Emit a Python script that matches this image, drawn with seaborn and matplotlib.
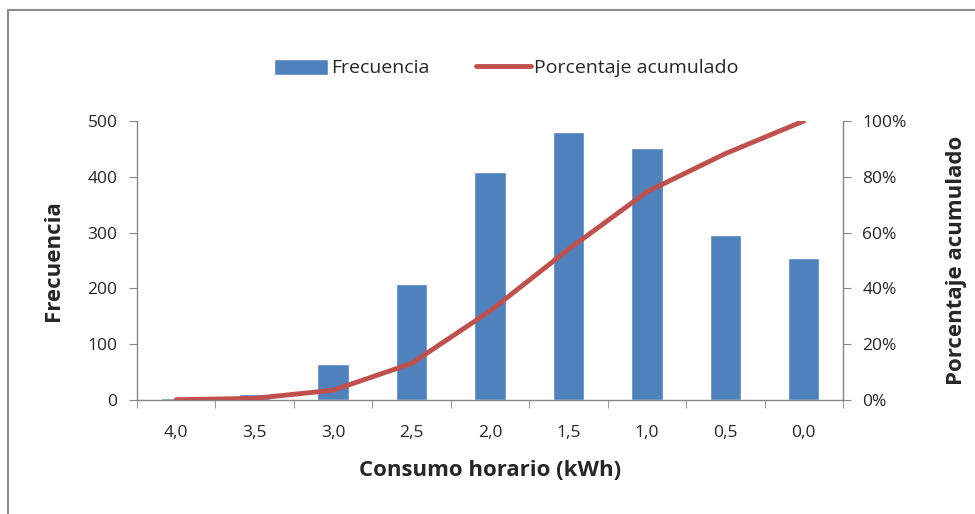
import numpy as np
import pandas as pd
import seaborn as sns
import matplotlib.pyplot as plt
from matplotlib.patches import Rectangle
from matplotlib.ticker import PercentFormatter

# Data
consumo = ["4,0", "3,5", "3,0", "2,5", "2,0", "1,5", "1,0", "0,5", "0,0"]
frecuencia = [3, 10, 65, 208, 408, 480, 451, 296, 254]
porcentaje = [0.1, 0.6, 3.5, 13.1, 31.9, 54.0, 74.6, 88.3, 100.0]

df = pd.DataFrame({"consumo": consumo, "frecuencia": frecuencia, "porcentaje": porcentaje})

sns.set_style("white")
plt.rcParams["font.family"] = ["Open Sans", "DejaVu Sans"]

fig = plt.figure(figsize=(9.75, 5.14), dpi=100)
ax = fig.add_axes([137 / 975, 1 - 400 / 514, (843 - 137) / 975, (400 - 121) / 514])

sns.barplot(data=df, x="consumo", y="frecuencia", color="#4F81BD", width=0.4,
            saturation=1, ax=ax, label="Frecuencia")
ax.set_ylim(0, 500)
ax.set_xlim(-0.5, len(consumo) - 0.5)
ax.set_yticks([0, 100, 200, 300, 400, 500])

ax2 = ax.twinx()
sns.lineplot(x=np.arange(len(consumo)), y=df["porcentaje"], color="#C0504D", linewidth=3.5,
             ax=ax2, label="Porcentaje acumulado")
ax2.set_ylim(0, 100)
ax2.set_yticks([0, 20, 40, 60, 80, 100])
ax2.yaxis.set_major_formatter(PercentFormatter(decimals=0))
ax2.set_xlim(-0.5, len(consumo) - 0.5)

gray = "#868686"
for a in (ax, ax2):
    for s in a.spines.values():
        s.set_visible(False)
ax.spines["left"].set_visible(True)
ax.spines["bottom"].set_visible(True)
ax2.spines["right"].set_visible(True)
for s in (ax.spines["left"], ax.spines["bottom"], ax2.spines["right"]):
    s.set_color(gray)
    s.set_linewidth(1)

# category ticks between bars
ax.set_xticks(np.arange(len(consumo)))
ax.set_xticklabels(consumo)
ax.set_xticks(np.arange(-0.5, len(consumo)), minor=True)
ax.tick_params(axis="x", which="major", length=0, pad=18, labelsize=12.5, colors="#262626")
ax.tick_params(axis="x", which="minor", length=6, color=gray, bottom=True)
ax.tick_params(axis="y", length=6, color=gray, left=True, labelsize=12.5, labelcolor="#262626", pad=8)
ax2.tick_params(axis="y", length=6, color=gray, right=True, labelsize=12.5, labelcolor="#262626", pad=8)

ax.set_xlabel("Consumo horario (kWh)", fontsize=16, fontweight="bold", labelpad=14)
ax.set_ylabel("Frecuencia", fontsize=16, fontweight="bold", labelpad=17)
ax2.set_ylabel("Porcentaje acumulado", fontsize=16, fontweight="bold", labelpad=28)

# legend on top
if ax.get_legend():
    ax.get_legend().remove()
if ax2.get_legend():
    ax2.get_legend().remove()
h1, l1 = ax.get_legend_handles_labels()
h2, l2 = ax2.get_legend_handles_labels()
fig.legend(h1 + h2, l1 + l2, loc="center", bbox_to_anchor=(506 / 975, 1 - 68 / 514), ncol=2,
           frameon=False, fontsize=14, handlelength=2.8, handleheight=0.9,
           handletextpad=0.15, columnspacing=2.4)

# outer chart border
fig.patches.append(Rectangle((8 / 975, -0.1), 1.2, 1.1 - 10 / 514, transform=fig.transFigure,
                             fill=False, edgecolor="#8c8c8c", linewidth=1.5))

fig.savefig("out.png", dpi=100)
